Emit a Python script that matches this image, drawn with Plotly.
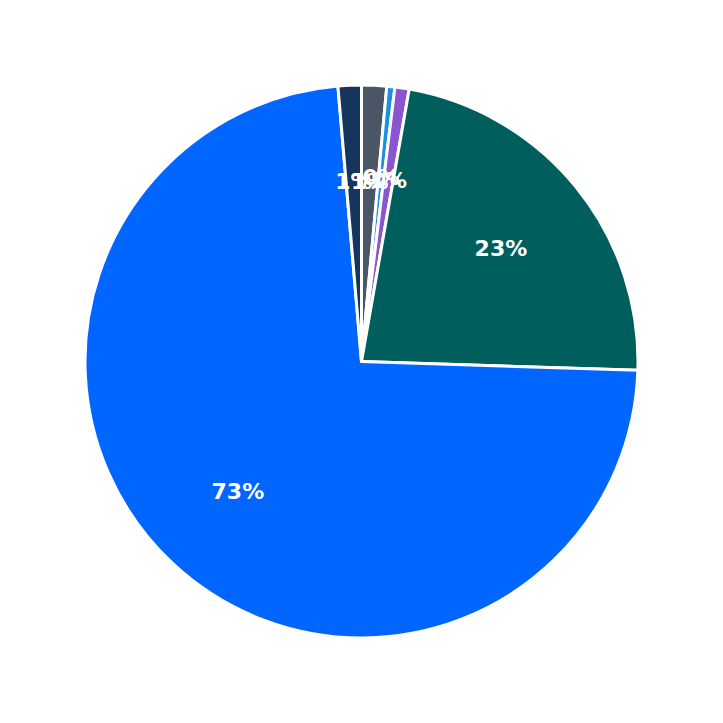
import plotly.graph_objects as go

# fatias na ordem horaria, a partir das 12 horas
categorias = ["B", "C", "D", "E", "F", "A"]
valores = [1.46, 0.47, 0.83, 22.75, 73.13, 1.36]
cores = ["#4a5566", "#1a8fe6", "#8a55d0", "#005f5c", "#0066ff", "#15355c"]

total = sum(valores)
pequenas = [v / total < 0.05 for v in valores]
rotulo = "%{percent:.0%}"

fonte = dict(family="DejaVu Sans", size=22, color="white", weight="bold")
transparente = ["rgba(0,0,0,0)"] * len(valores)

fig = go.Figure()

# fatias coloridas
fig.add_trace(
    go.Pie(
        labels=categorias,
        values=valores,
        sort=False,
        direction="clockwise",
        domain=dict(x=[0, 1], y=[0, 1]),
        marker=dict(colors=cores, line=dict(color="white", width=3)),
        textinfo="none",
        hoverinfo="label+percent",
    )
)

# rotulos das fatias grandes
fig.add_trace(
    go.Pie(
        labels=categorias,
        values=valores,
        sort=False,
        direction="clockwise",
        hole=0.3,
        domain=dict(x=[0, 1], y=[0, 1]),
        marker=dict(colors=transparente, line=dict(width=0)),
        texttemplate=["" if p else rotulo for p in pequenas],
        textposition="inside",
        insidetextorientation="horizontal",
        textfont=fonte,
        hoverinfo="skip",
    )
)

# rotulos das fatias pequenas, puxados para dentro
fig.add_trace(
    go.Pie(
        labels=categorias,
        values=valores,
        sort=False,
        direction="clockwise",
        domain=dict(x=[0.16, 0.84], y=[0.16, 0.84]),
        marker=dict(colors=transparente, line=dict(width=0)),
        texttemplate=[rotulo if p else "" for p in pequenas],
        textposition="inside",
        insidetextorientation="horizontal",
        textfont=fonte,
        hoverinfo="skip",
    )
)

fig.update_layout(
    width=723,
    height=723,
    showlegend=False,
    margin=dict(l=77, r=93, t=77, b=93),
    paper_bgcolor="white",
    uniformtext=dict(minsize=22, mode="show"),
)

fig.write_html("out.html")
